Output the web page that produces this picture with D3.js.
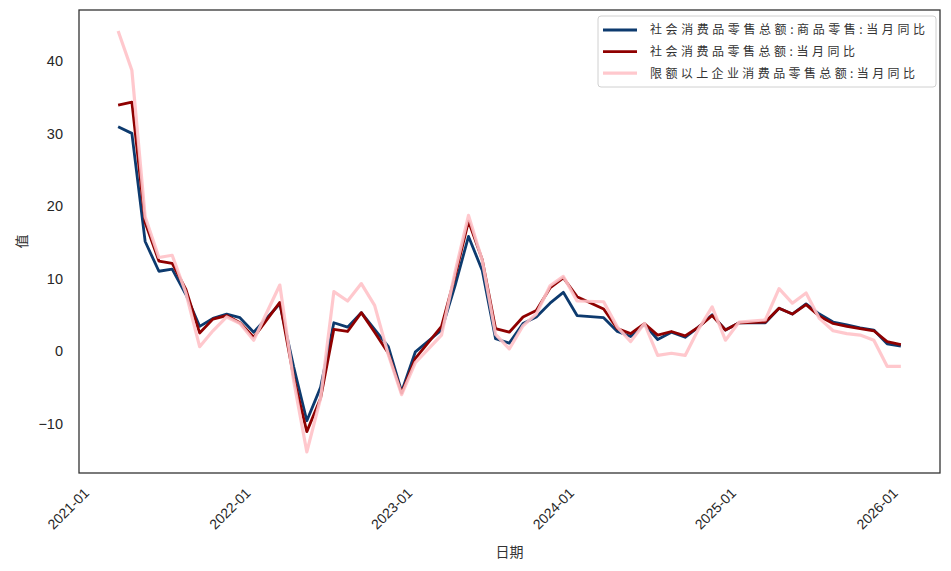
<!DOCTYPE html>
<html>
<head>
<meta charset="utf-8">
<script src="https://cdn.jsdelivr.net/npm/d3@7"></script>
<style>
  html, body { margin: 0; padding: 0; background: #fff; }
  svg { display: block; }
</style>
</head>
<body>
<svg id="chart" width="951" height="571"></svg>
<script>
const months = [
  "2021-02","2021-03","2021-04","2021-05","2021-06","2021-07","2021-08","2021-09","2021-10","2021-11","2021-12",
  "2022-02","2022-03","2022-04","2022-05","2022-06","2022-07","2022-08","2022-09","2022-10","2022-11","2022-12",
  "2023-02","2023-03","2023-04","2023-05","2023-06","2023-07","2023-08","2023-09","2023-10","2023-11","2023-12",
  "2024-02","2024-03","2024-04","2024-05","2024-06","2024-07","2024-08","2024-09","2024-10","2024-11","2024-12",
  "2025-02","2025-03","2025-04","2025-05","2025-06","2025-07","2025-08","2025-09","2025-10","2025-11","2025-12"
];
const goodsRetail = [
  30.9, 30.0, 15.1, 11.0, 11.3, 7.8, 3.4, 4.5, 5.1, 4.6, 2.6,
  6.5, -2.1, -9.6, -5.0, 3.9, 3.3, 5.3, 3.0, 0.6, -5.6, -0.1,
  2.9, 9.1, 15.8, 11.1, 1.7, 1.1, 3.8, 4.7, 6.6, 8.1, 4.9,
  4.6, 2.7, 2.0, 3.7, 1.6, 2.6, 1.9, 3.3, 5.0, 2.9, 3.9,
  3.9, 5.9, 5.1, 6.5, 5.1, 4.0, 3.6, 3.2, 2.9, 1.0, 0.7
];
const totalRetail = [
  33.9, 34.3, 17.7, 12.4, 12.1, 8.5, 2.5, 4.4, 4.9, 3.9, 1.9,
  6.7, -3.5, -11.1, -6.5, 3.0, 2.7, 5.3, 2.6, -0.3, -5.8, -1.0,
  3.4, 10.4, 17.9, 12.6, 3.1, 2.6, 4.7, 5.6, 8.7, 10.1, 7.5,
  5.8, 3.1, 2.4, 3.8, 2.2, 2.7, 2.1, 3.3, 4.9, 2.9, 3.9,
  4.0, 5.9, 5.1, 6.4, 4.8, 3.8, 3.4, 3.1, 2.8, 1.3, 0.9
];
const aboveLimit = [
  44.1, 38.7, 18.5, 12.9, 13.2, 8.0, 0.6, 2.8, 4.7, 3.8, 1.5,
  9.1, -4.0, -13.9, -6.5, 8.2, 6.9, 9.3, 6.3, -0.5, -6.0, -1.6,
  2.2, 11.0, 18.7, 12.5, 2.3, 0.3, 3.5, 5.1, 9.0, 10.3, 6.9,
  6.8, 3.3, 1.3, 3.8, -0.6, -0.3, -0.6, 3.0, 6.1, 1.5, 4.0,
  4.3, 8.6, 6.6, 8.0, 4.5, 2.8, 2.4, 2.2, 1.5, -2.1, -2.1
];
const seriesNames = [
  "社会消费品零售总额:商品零售:当月同比",
  "社会消费品零售总额:当月同比",
  "限额以上企业消费品零售总额:当月同比"
];
const xTickLabels = ["2021-01","2022-01","2023-01","2024-01","2025-01","2026-01"];
const yTicks = [-10, 0, 10, 20, 30, 40];
const xTitle = "日期";
const yTitle = "值";

// end-of-month dates
const dates = months.map(s => { const [y, m] = s.split("-").map(Number); return new Date(y, m, 0); });
const tickDates = xTickLabels.map(s => { const [y, m] = s.split("-").map(Number); return new Date(y, m - 1, 1); });

const series = [
  { name: seriesNames[0], values: goodsRetail, color: "#0d3a6e", width: 2.8, opacity: 1 },
  { name: seriesNames[1], values: totalRetail, color: "#8f0000", width: 2.8, opacity: 1 },
  { name: seriesNames[2], values: aboveLimit, color: "#ffc2c8", width: 3.2, opacity: 0.9 }
];

const svg = d3.select("#chart");
const L = 79, R = 940, T = 10, B = 473;

const [d0, d1] = d3.extent(dates);
const pad = (d1 - d0) * 0.05;
const x = d3.scaleTime().domain([new Date(+d0 - pad), new Date(+d1 + pad)]).range([L, R]);

const allVals = goodsRetail.concat(totalRetail, aboveLimit);
const [v0, v1] = d3.extent(allVals);
const vpad = (v1 - v0) * 0.05;
const y = d3.scaleLinear().domain([v0 - vpad, v1 + vpad]).range([B, T]);

const font = "'Liberation Sans', Arial, sans-serif";

// lines
const line = d3.line().x((d, i) => x(dates[i])).y(d => y(d));
svg.append("clipPath").attr("id", "clip").append("rect")
  .attr("x", L).attr("y", T).attr("width", R - L).attr("height", B - T);
series.forEach(s => {
  svg.append("path")
    .datum(s.values)
    .attr("clip-path", "url(#clip)")
    .attr("fill", "none")
    .attr("stroke", s.color)
    .attr("stroke-width", s.width)
    .attr("stroke-opacity", s.opacity)
    .attr("stroke-linejoin", "round")
    .attr("stroke-linecap", "butt")
    .attr("d", line);
});

// y axis
const yAxis = d3.axisLeft(y).tickValues(yTicks).tickSize(0).tickPadding(16).tickFormat(d3.format("d"));
const yg = svg.append("g").attr("transform", `translate(${L},0)`).call(yAxis);
yg.select(".domain").remove();
yg.selectAll("text").attr("font-family", font).attr("font-size", 14.5).attr("fill", "#262626");

// x axis
const xAxis = d3.axisBottom(x).tickValues(tickDates).tickSize(0).tickPadding(0)
  .tickFormat((d, i) => xTickLabels[i]);
const xg = svg.append("g").attr("transform", `translate(0,${B})`).call(xAxis);
xg.select(".domain").remove();
xg.selectAll("text")
  .attr("font-family", font).attr("font-size", 14).attr("fill", "#262626")
  .attr("text-anchor", "end")
  .attr("dy", 0)
  .attr("transform", "translate(-3,21) rotate(-45)");

// frame
svg.append("rect").attr("x", L).attr("y", T).attr("width", R - L).attr("height", B - T)
  .attr("fill", "none").attr("stroke", "#333").attr("stroke-width", 1.3);

// axis titles
svg.append("text").attr("x", (L + R) / 2).attr("y", 557).attr("text-anchor", "middle")
  .attr("font-family", "'Noto Sans CJK SC', sans-serif").attr("font-size", 14).attr("fill", "#333")
  .text(xTitle);
svg.append("text").attr("transform", `translate(27,${(T + B) / 2}) rotate(-90)`).attr("text-anchor", "middle")
  .attr("font-family", "'Noto Sans CJK SC', sans-serif").attr("font-size", 14).attr("fill", "#333")
  .text(yTitle);

// legend
const lg = svg.append("g");
lg.append("rect").attr("x", 598).attr("y", 16).attr("width", 338).attr("height", 71).attr("rx", 3)
  .attr("fill", "#fff").attr("fill-opacity", 0.85).attr("stroke", "#d0d0d0").attr("stroke-width", 1);
const legendLens = [275, 205, 265];
series.forEach((s, i) => {
  const yy = 30 + i * 21.6;
  lg.append("line").attr("x1", 603).attr("x2", 637).attr("y1", yy).attr("y2", yy)
    .attr("stroke", s.color).attr("stroke-width", s.width).attr("stroke-opacity", s.opacity);
  lg.append("text").attr("x", 650).attr("y", yy).attr("dy", "0.36em")
    .attr("font-family", "'Noto Sans CJK SC', sans-serif").attr("font-size", 12).attr("fill", "#333")
    .attr("textLength", legendLens[i]).attr("lengthAdjust", "spacing")
    .text(s.name);
});
</script>
</body>
</html>
